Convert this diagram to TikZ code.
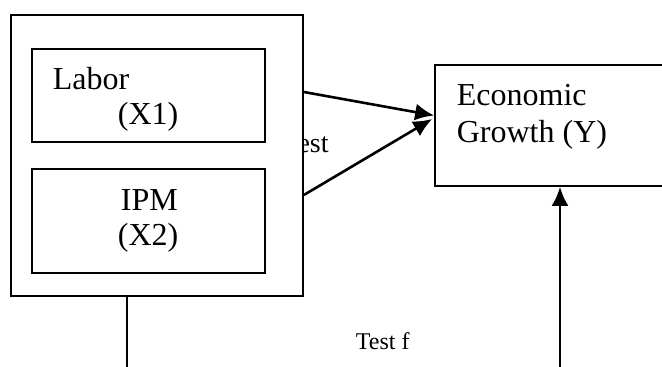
\documentclass[tikz,border=0pt]{standalone}
\usepackage{fontspec}
\setmainfont{Liberation Serif}
\usetikzlibrary{arrows.meta}
\begin{document}
\begin{tikzpicture}[x=1pt,y=-1pt,line width=1.7pt,every node/.style={font=\fontsize{32}{37}\selectfont,inner sep=0pt},
  box/.style={draw,fill=white,rectangle},
  lbl/.style={anchor=base west},
  small/.style={anchor=base west,font=\fontsize{24}{28}\selectfont},
  link/.style={line width=2.6pt,-{Latex[length=19pt,width=17pt]}}]
\useasboundingbox (0,0) rectangle (662,367);
\clip (0,0) rectangle (662,367);
% label partly hidden by the outer box
\node[small,font=\fontsize{28}{32}\selectfont] (testt) at (281.5,152) {Test};
\node[box,minimum width=292,minimum height=281] (outer) at (157,155.5) {};
\node[box,minimum width=233,minimum height=93] (labor) at (148.5,95.5) {};
\node[box,minimum width=233,minimum height=104] (ipm) at (148.5,221) {};
\node[box,minimum width=245,minimum height=121] (econ) at (557.5,125.5) {};
\node[lbl] (laborA) at (52,89) {Labor};
\node[lbl] (laborB) at (117,124) {(X1)};
\node[lbl] (ipmA) at (120,210) {IPM};
\node[lbl] (ipmB) at (117,245) {(X2)};
\node[lbl] (econA) at (456,105) {Economic};
\node[lbl] (econB) at (456,142) {Growth (Y)};
\node[small] (testf) at (355,349) {Test f};
\coordinate (low1) at (127,370);
\coordinate (low2) at (560,370);
\draw[link] ([yshift=63.5pt]outer.east) -- ([yshift=10pt]econ.west);
\draw[link] ([yshift=-39.5pt]outer.east) -- ([yshift=6.5pt,xshift=-2pt]econ.west);
\draw[link] (low2) -- (low2 |- econ.south);
\draw (low1 |- outer.south) -- (low1);
\end{tikzpicture}
\end{document}
